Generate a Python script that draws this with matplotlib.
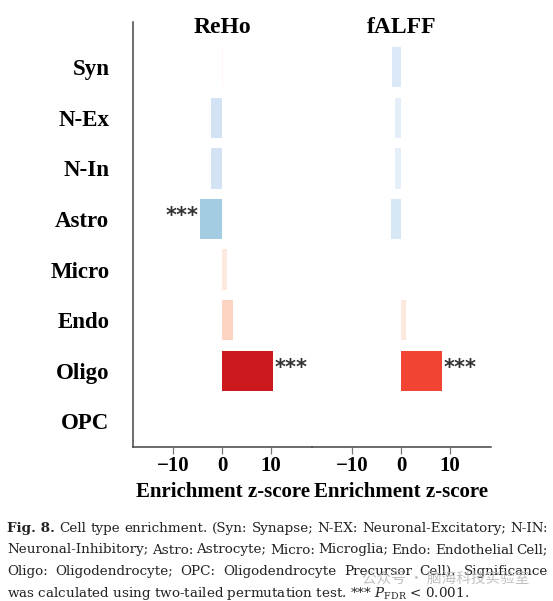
import matplotlib
matplotlib.use("Agg")
import matplotlib.pyplot as plt
import numpy as np

# cell types, top to bottom
cell_types = ['Syn', 'N-Ex', 'N-In', 'Astro', 'Micro', 'Endo', 'Oligo', 'OPC']

# enrichment z-scores
reho_z = [0.1, -2.3, -2.3, -4.5, 1.0, 2.3, 10.4, 0.05]
falff_z = [-1.8, -1.3, -1.2, -2.0, 0.05, 1.0, 8.4, 0.0]

# significance markers
reho_sig = ['', '', '', '***', '', '', '***', '']
falff_sig = ['', '', '', '', '', '', '***', '']

panel_titles = ['ReHo', 'fALFF']
x_ticks = [-10, 0, 10]
x_label = 'Enrichment z-score'

caption_lines = [
    [('Fig. 8.', 'bold'), ('Cell', 'normal'), ('type', 'normal'), ('enrichment.', 'normal'),
     ('(Syn:', 'normal'), ('Synapse;', 'normal'), ('N-EX:', 'normal'),
     ('Neuronal-Excitatory;', 'normal'), ('N-IN:', 'normal')],
    [('Neuronal-Inhibitory;', 'normal'), ('Astro:', 'normal'), ('Astrocyte;', 'normal'),
     ('Micro:', 'normal'), ('Microglia;', 'normal'), ('Endo:', 'normal'),
     ('Endothelial', 'normal'), ('Cell;', 'normal')],
    [('Oligo:', 'normal'), ('Oligodendrocyte;', 'normal'), ('OPC:', 'normal'),
     ('Oligodendrocyte', 'normal'), ('Precursor', 'normal'), ('Cell).', 'normal'),
     ('Significance', 'normal')],
]
caption_last = r'was calculated using two-tailed permutation test. *** $P_{\mathrm{FDR}}$ < 0.001.'
watermark = '公众号 · 脑海科技实验室'

plt.rcParams['mathtext.fontset'] = 'custom'
plt.rcParams['mathtext.rm'] = 'DejaVu Serif'
plt.rcParams['mathtext.it'] = 'DejaVu Serif:italic'

W, H = 553, 601
fig = plt.figure(figsize=(W / 100, H / 100), dpi=100)


def bar_color(z):
    if z < 0:
        return plt.cm.Blues(min(abs(z) / 12.5, 1.0))
    return plt.cm.Reds(min(z / 14.0, 1.0))


serif = 'Liberation Serif'
y_pos = np.arange(len(cell_types))
ax_bottom = (H - 446.7) / H
ax_height = (446.7 - 21.7) / H
panel_left = [133 / W, 312 / W]
panel_width = 179 / W

for i, (vals, sig, title) in enumerate(zip([reho_z, falff_z], [reho_sig, falff_sig], panel_titles)):
    ax = fig.add_axes([panel_left[i], ax_bottom, panel_width, ax_height])
    ax.barh(y_pos, vals, height=0.8, color=[bar_color(v) for v in vals], edgecolor='none')

    for y, v, s in zip(y_pos, vals, sig):
        if not s:
            continue
        if v < 0:
            ax.text(v - 0.3, y - 0.05, s, ha='right', va='center', fontsize=15,
                    fontweight='bold', color='#333333')
        else:
            ax.text(v + 0.3, y - 0.05, s, ha='left', va='center', fontsize=15,
                    fontweight='bold', color='#333333')

    ax.set_xlim(-18.2, 18.4)
    ax.set_ylim(7.5, -0.9)
    ax.set_xticks(x_ticks)
    ax.set_xticklabels(['\u2212' + str(abs(t)) if t < 0 else str(t) for t in x_ticks],
                       fontfamily=serif, fontweight='bold', fontsize=15)
    ax.tick_params(axis='x', length=5, width=0.9, color='#777777', pad=2)
    ax.set_xlabel(x_label, fontfamily=serif, fontweight='bold', fontsize=15, labelpad=4)

    ax.text(0.5, 0.973, title, transform=ax.transAxes, ha='center', va='baseline',
            fontfamily=serif, fontweight='bold', fontsize=17)

    for side in ['top', 'right']:
        ax.spines[side].set_visible(False)
    ax.spines['bottom'].set_color('#444444')
    ax.spines['bottom'].set_linewidth(1.1)
    ax.set_facecolor('none')

    if i == 0:
        ax.set_yticks(y_pos)
        ax.set_yticklabels(cell_types, fontfamily=serif, fontweight='bold', fontsize=16.5)
        ax.tick_params(axis='y', length=0, pad=17)
        ax.spines['left'].set_color('#444444')
        ax.spines['left'].set_linewidth(1.1)
    else:
        ax.set_yticks([])
        ax.spines['left'].set_visible(False)

# caption, justified lines
renderer = fig.canvas.get_renderer()
cap_left, cap_right = 7 / W, 548 / W
baselines = [531.7, 553.5, 575.3, 596.5]
cap_size = 9.7

for line, base in zip(caption_lines, baselines):
    texts = [fig.text(0, 1 - base / H, w, fontsize=cap_size, fontfamily='DejaVu Serif',
                      fontweight=wt, va='baseline', color='#222222') for w, wt in line]
    widths = [t.get_window_extent(renderer).width / W for t in texts]
    gap = (cap_right - cap_left - sum(widths)) / (len(texts) - 1)
    x = cap_left
    for t, w in zip(texts, widths):
        t.set_x(x)
        x += w + gap

fig.text(cap_left, 1 - baselines[3] / H, caption_last, fontsize=cap_size,
         fontfamily='DejaVu Serif', va='baseline', color='#222222')

fig.text(446 / W, 1 - 580 / H, watermark, ha='center', va='center', fontsize=10.5,
         family=['Noto Sans CJK SC', 'DejaVu Sans'], color='#b8b8b8', alpha=0.85)

fig.savefig('out.png', dpi=100)
